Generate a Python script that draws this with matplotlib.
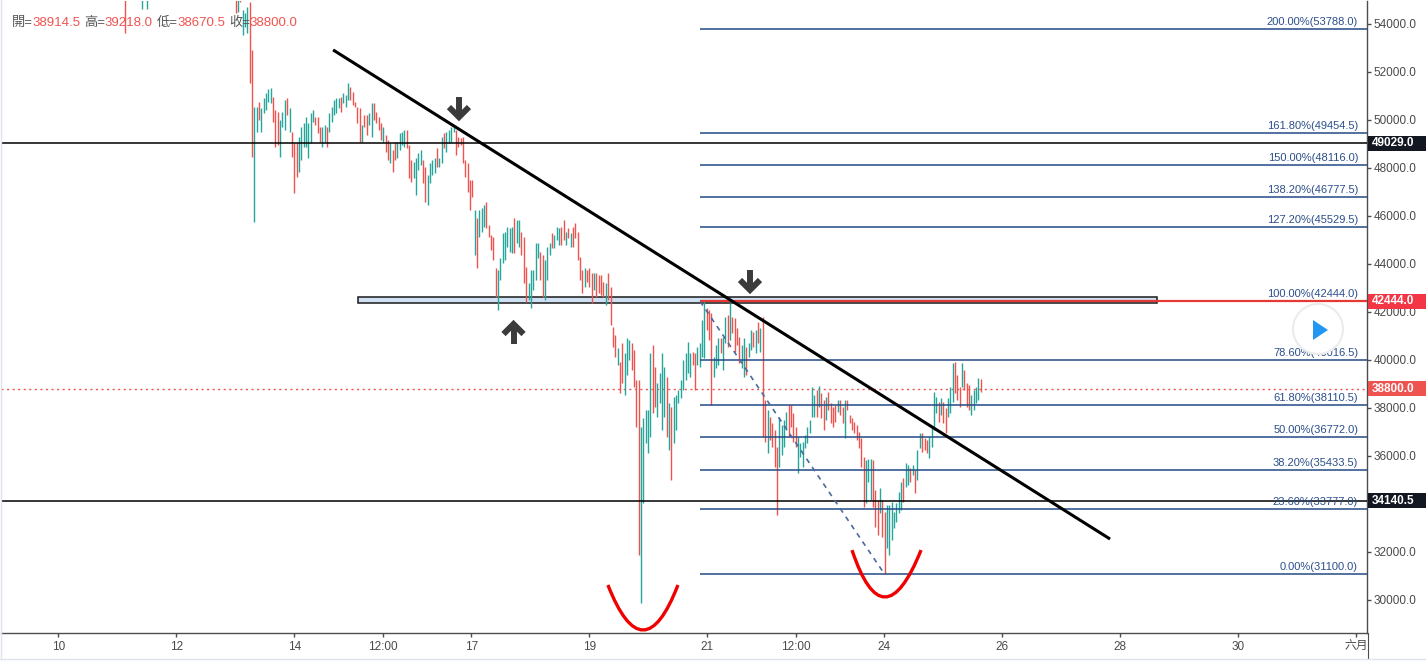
import numpy as np
import matplotlib
matplotlib.use("Agg")
import matplotlib.pyplot as plt
from matplotlib.patches import Rectangle, Circle, Polygon, PathPatch
from matplotlib.path import Path
from matplotlib.lines import Line2D
from matplotlib.transforms import IdentityTransform

plt.rcParams['font.family'] = ['Liberation Sans', 'Noto Sans CJK TC', 'DejaVu Sans']

# bar highs / lows in thousand USD (left to right)
high_k = [
    56.8, 57.1, 57.0, 56.6, 56.2, 55.9, 56.0, 56.1, 56.4, 56.3,
    56.0, 55.9, 55.8, 55.6, 55.7, 55.6, 56.0, 56.4, 56.7, 56.9,
    57.2, 57.5, 57.3, 57.0, 56.8, 57.1, 57.4, 57.6, 57.3, 57.0,
    57.2, 57.5, 57.8, 57.5, 57.2, 56.9, 57.1, 57.3, 57.0, 56.7,
    56.5, 56.8, 57.0, 56.7, 56.3, 56.0, 56.2, 56.1, 55.9, 55.8,
    56.0, 55.7, 55.6, 55.5, 55.3, 55.4, 54.6, 54.46, 54.7, 54.9,
    52.92, 50.54, 50.54, 50.75, 50.50, 50.92, 51.13, 51.29, 51.33, 50.96,
    50.42, 50.33, 50.00, 50.33, 50.83, 50.92, 50.50, 49.50, 49.04, 49.04,
    49.29, 49.71, 49.88, 50.13, 49.88, 50.29, 50.42, 50.13, 50.13, 49.71,
    49.71, 49.79, 49.71, 50.29, 50.54, 50.83, 50.92, 50.92, 50.96, 51.13,
    51.04, 51.54, 51.38, 51.17, 50.75, 50.54, 50.50, 49.79, 50.21, 50.21,
    50.29, 50.71, 50.71, 50.33, 50.13, 49.88, 49.71, 49.38, 49.17, 49.04,
    48.75, 49.08, 49.08, 49.46, 49.50, 49.58, 49.58, 48.96, 48.33, 48.25,
    48.42, 48.63, 48.75, 48.33, 48.04, 47.71, 48.21, 48.33, 48.42, 48.83,
    48.42, 49.29, 49.46, 49.50, 49.58, 49.71, 49.79, 49.58, 49.29, 49.25,
    49.29, 48.33, 48.21, 47.50, 47.50, 46.25, 45.92, 46.25, 46.33, 46.46,
    46.58, 45.63, 45.21, 45.13, 43.83, 43.75, 44.25, 45.29, 45.33, 45.54,
    45.50, 45.54, 45.92, 45.83, 45.83, 45.33, 45.13, 43.88, 43.21, 43.75,
    43.75, 44.88, 44.88, 44.50, 44.38, 44.17, 44.71, 44.88, 45.29, 45.21,
    45.54, 45.50, 45.54, 45.83, 45.33, 45.50, 45.29, 45.54, 45.71, 45.33,
    44.29, 43.75, 43.83, 43.75, 43.83, 43.63, 43.63, 43.63, 43.54, 43.54,
    43.25, 43.21, 43.63, 43.04, 41.38, 41.04, 40.50, 39.92, 40.71, 40.29,
    40.92, 40.83, 40.71, 40.42, 39.17, 39.17, 37.21, 37.58, 37.92, 37.92,
    40.29, 40.63, 39.71, 39.04, 39.46, 40.29, 39.71, 39.29, 38.21, 38.04,
    38.46, 38.54, 38.75, 39.17, 40.00, 40.29, 40.75, 40.29, 40.33, 40.29,
    40.54, 40.71, 41.67, 42.44, 42.17, 42.08, 41.96,
    40.13, 40.63, 40.92, 40.92, 40.96, 41.79, 41.88, 42.38, 41.79, 41.75, 41.33, 40.96,
    40.63, 40.92, 40.54, 40.71, 41.25, 41.17, 41.25, 41.58, 41.33, 41.79, 38.33, 37.92, 37.63,
    37.38, 37.08, 36.38, 37.63, 37.29, 37.50, 37.83, 38.13, 38.13, 37.79,
    37.21, 36.79, 36.54, 36.58, 36.88, 37.21, 37.50, 38.88, 38.54, 38.75,
    38.92, 38.63, 38.33, 38.46, 38.67, 38.21, 38.04, 38.13, 38.33, 38.33,
    38.04, 38.33, 38.33,
    37.71, 37.58, 37.42, 37.29, 37.00, 36.75, 35.96, 35.83, 35.88, 35.88,
    35.83, 34.58, 34.17, 34.67, 34.17, 33.67, 33.96, 33.96, 34.08, 33.67,
    34.04, 34.50, 34.92, 35.08, 35.71, 35.63, 35.50, 35.63,
    35.42, 36.25, 36.96, 36.96, 36.75, 36.67, 36.79, 37.21, 38.67, 38.46,
    38.25, 38.42, 38.25, 38.00, 38.42, 38.88, 39.88, 39.92, 39.38, 38.88,
    39.88, 39.58, 39.04, 38.96, 38.54, 38.75, 38.88, 39.25, 39.218,
]
low_k = [
    55.9, 56.2, 56.3, 55.7, 55.3, 55.1, 53.62, 55.2, 55.6, 55.5,
    55.3, 55.2, 55.1, 54.63, 55.05, 54.63, 55.2, 55.5, 55.9, 56.1,
    56.3, 56.6, 56.5, 56.2, 56.0, 56.3, 56.6, 56.8, 56.4, 56.1,
    56.4, 56.7, 56.9, 56.6, 56.3, 56.0, 56.2, 56.5, 56.1, 55.8,
    55.6, 55.9, 56.1, 55.7, 55.4, 55.2, 55.4, 55.3, 55.15, 55.1,
    55.3, 55.1, 55.05, 54.46, 54.5, 54.9, 53.54, 53.88, 53.62, 51.54,
    48.46, 45.75, 49.50, 50.00, 49.50, 50.29, 50.42, 50.75, 50.71, 49.92,
    48.88, 48.96, 48.46, 49.71, 49.58, 50.21, 49.50, 48.46, 46.96, 47.63,
    47.83, 48.33, 48.88, 48.88, 48.42, 49.04, 49.92, 49.79, 49.46, 49.08,
    48.88, 49.08, 48.88, 49.50, 49.92, 50.21, 50.29, 50.50, 50.33, 50.71,
    50.54, 50.83, 50.83, 50.63, 50.54, 49.88, 49.08, 49.08, 49.71, 49.38,
    49.79, 49.29, 50.00, 49.88, 49.58, 49.17, 49.08, 48.67, 48.33, 48.21,
    47.83, 48.33, 48.42, 48.75, 48.96, 48.88, 48.83, 47.58, 47.42, 47.58,
    46.88, 47.92, 48.13, 47.38, 46.58, 46.46, 47.38, 47.71, 47.79, 48.04,
    48.04, 48.21, 48.83, 48.67, 49.04, 49.08, 49.50, 48.54, 48.88, 48.96,
    48.21, 47.63, 47.00, 46.25, 46.79, 44.38, 43.83, 45.13, 45.33, 45.54,
    45.50, 45.13, 44.58, 44.17, 42.63, 42.08, 43.33, 44.04, 44.17, 44.71,
    44.50, 44.46, 44.46, 44.88, 44.71, 44.38, 43.21, 42.42, 42.50, 42.17,
    42.92, 43.33, 44.25, 43.33, 42.63, 42.50, 43.33, 44.38, 44.67, 44.67,
    45.00, 44.79, 44.79, 45.00, 44.79, 45.08, 44.71, 44.71, 45.08, 44.17,
    43.33, 42.79, 43.04, 43.25, 43.04, 42.38, 42.92, 42.63, 42.79, 42.71,
    42.63, 42.29, 42.50, 41.46, 40.54, 40.13, 39.79, 38.63, 39.04, 38.54,
    39.38, 40.00, 39.58, 38.88, 37.21, 31.88, 29.88, 34.04, 36.54, 36.13,
    36.79, 37.79, 38.04, 37.63, 38.21, 37.08, 37.63, 36.79, 36.25, 35.00,
    36.54, 37.08, 38.21, 38.42, 38.75, 39.17, 39.46, 39.29, 39.79, 38.75,
    39.79, 39.71, 40.13, 40.08, 41.25, 40.83, 38.13,
    39.29, 39.67, 39.79, 40.29, 39.58, 40.71, 40.54, 40.83, 41.13, 40.33, 40.63, 39.88,
    39.67, 39.29, 39.38, 40.13, 40.42, 40.54, 40.29, 40.71, 40.33, 36.79, 36.58, 36.13, 36.67,
    36.38, 35.54, 33.54, 35.54, 36.04, 36.38, 37.08, 36.79, 37.21, 36.58,
    36.38, 35.29, 35.96, 35.54, 36.33, 36.54, 36.96, 37.63, 37.63, 37.63,
    38.04, 37.58, 37.08, 37.50, 37.92, 37.38, 37.21, 37.42, 37.83, 37.71,
    37.38, 36.75, 37.92,
    37.38, 37.08, 36.96, 36.67, 36.33, 35.54, 33.88, 34.04, 34.92, 34.17,
    33.88, 33.04, 32.71, 33.63, 32.63, 31.10, 32.17, 31.88, 32.50, 33.00,
    33.25, 33.63, 33.75, 34.08, 34.71, 34.79, 34.92, 35.21,
    34.46, 35.00, 36.33, 36.17, 36.25, 36.13, 35.92, 36.38, 37.08, 37.79,
    37.42, 37.71, 37.38, 36.96, 37.63, 37.79, 38.25, 38.63, 38.33, 38.04,
    38.88, 38.75, 38.04, 37.92, 37.71, 37.92, 38.21, 38.33, 38.6705,
]
# u = closed up (teal), d = closed down (red)
bar_dir = """
u u d d d d d u u d   d d d u u u u u u d   u u d d u u u d d u
u u d d d u u d d d   u u d d d u u d d u   d d d d u d u u u d
d u u d u u u u u d   d d u u u d u d d d   u u u u u u u d d d
u u d u u u u u d u   u u d d d d d u d d   u u d d d d u d d u
d d u u u u d d d u   u u u d d u u u u d   u u d u u u u d d d
d d d d d u d u u u   d d d d d u u u u u   u u d u u d d d u u
u u u d d u u u d u   u u d d u d u d d d   d d u d d d u d d d
d u d d d d u d d u   u u d d d d u u u u   u d d u u u u d u d
u u u u u u u u d d   u u u u d d d
u u u d u u d u d d d d
u u d u u d u d u d d u d
d d d u u u u d d d   d u u u u u u u u d   u d d u d d d d u d   d u d
d d d d d d d u u u   d d d u d d u u u u   u u u d u u d u
d u u d d d u u u u   d u d d u u u d d d
u d d d u u u u d
""".split()

bar_start = 21.61   # hours after 10 May 00:00 of the first bar
bar_step = 0.9533

fib_pct = ["0.00", "23.60", "38.20", "50.00", "61.80", "78.60",
           "100.00", "127.20", "138.20", "150.00", "161.80", "200.00"]
fib_val = [31100.0, 33777.0, 35433.5, 36772.0, 38110.5, 40016.5,
           42444.0, 45529.5, 46777.5, 48116.0, 49454.5, 53788.0]
fib_start = 261.1

level_lines = [49029.0, 34140.5]
last_price = 38800.0
ohlc_last = [("開", "38914.5"), ("高", "39218.0"), ("低", "38670.5"), ("收", "38800.0")]
price_tags = [(49029.0, "#131722"), (42444.0, "#f23645"),
              (38800.0, "#ef5350"), (34140.5, "#131722")]

x_ticks = [0, 48, 96, 132, 168, 216, 264, 300, 336, 384, 432, 480, 528]
x_labels = ["10", "12", "14", "12:00", "17", "19", "21", "12:00",
            "24", "26", "28", "30", "六月"]

W, H = 1426, 663
fig = plt.figure(figsize=(W / 100, H / 100), dpi=100)
fig.patch.set_facecolor("white")
ax = fig.add_axes([1 / W, 30 / H, 1366 / W, 632 / H])
x_max = 532.42
ax.set_xlim(-23.31, x_max)
ax.set_ylim(28625, 54958)
ax.autoscale(False)

hi = np.array(high_k) * 1000
lo = np.array(low_k) * 1000
t = bar_start + np.arange(len(hi)) * bar_step
cols = ["#26a69a" if d == "u" else "#ef5350" for d in bar_dir]
ax.vlines(t, lo, hi, colors=cols, lw=1.0, zorder=3)

# support zone
ax.add_patch(Rectangle((121.9, 42360), 447.0 - 121.9, 250, fc="#cfe0f3",
                       ec="#1a1a1a", lw=1.1, zorder=2))

# fib retracement
ax.hlines(fib_val, fib_start, x_max, color="#234a85", lw=1.1, zorder=4)
for pct, v in zip(fib_pct, fib_val):
    ax.annotate(f"{pct}%({v:.1f})", (528.8, v), xytext=(0, 1.5),
                textcoords="offset points", ha="right", va="bottom",
                fontsize=8, color="#2b4f8a", zorder=6)
ax.hlines(42444.0, fib_start, x_max, color="#e53935", lw=1.6, zorder=5)
ax.plot([261.1, 336.0], [42444.0, 31100.0], color="#4a6a9c", lw=1.2,
        ls=(0, (3, 3)), zorder=5)

for v in level_lines:
    ax.axhline(v, color="black", lw=1.1, zorder=4)
ax.axhline(last_price, color="#ef5350", lw=1, ls=(0, (1.5, 2.5)), zorder=2)

# trend line
ax.plot([111.8, 427.9], [52920, 32540], color="black", lw=2.2, zorder=6,
        solid_capstyle="butt")

# red "U" marks (quadratic curves)
u_marks = [(223.6, 237.9, 252.1, 30625, 28750), (322.9, 336.3, 351.0, 32080, 30125)]
for t0, tm, t1, ptop, pbot in u_marks:
    ctrl = (2 * tm - 0.5 * (t0 + t1), 2 * pbot - ptop)
    path = Path([(t0, ptop), ctrl, (t1, ptop)], [Path.MOVETO, Path.CURVE3, Path.CURVE3])
    ax.add_patch(PathPatch(path, fc="none", ec="#f00000", lw=2.4, zorder=7))

ax.spines["left"].set_visible(False)
ax.spines["top"].set_visible(False)
for s in ("right", "bottom"):
    ax.spines[s].set_color("#4d4d4d")
    ax.spines[s].set_linewidth(1)
ax.yaxis.tick_right()
yt = np.arange(30000, 54001, 2000)
ax.set_yticks(yt)
# the 34000 label sits under the 34140.5 tag in the reference
ax.set_yticklabels(["" if v == 34000 else f"{v:.1f}" for v in yt])
ax.set_xticks(x_ticks)
ax.set_xticklabels(x_labels)
ax.tick_params(axis="both", length=3, width=1, color="#4d4d4d",
               labelsize=8.5, labelcolor="#4a4a4a")
ax.tick_params(axis="y", pad=2)
ax.tick_params(axis="x", pad=3)

# arrows (drawn in pixels around a data anchor)
arrow_marks = [(163.0, 50080, "down"), (281.4, 42875, "down"), (185.2, 41540, "up")]
for at, ap, kind in arrow_marks:
    px, py = ax.transData.transform((at, ap))
    s = 1 if kind == "up" else -1
    fig.add_artist(Line2D([px, px], [py - s * 4, py - s * 21], color="#3b3b3b",
                          lw=4.3, solid_capstyle="butt", transform=IdentityTransform()))
    fig.add_artist(Line2D([px - 10, px, px + 10], [py - s * 11, py - s * 1, py - s * 11],
                          color="#3b3b3b", lw=4.3, solid_joinstyle="miter",
                          solid_capstyle="butt", transform=IdentityTransform()))

# price tags on the scale
for v, c in price_tags:
    py = ax.transData.transform((0, v))[1]
    fig.add_artist(Rectangle((1368, py - 7.5), 58, 15, fc=c, ec="none",
                             transform=IdentityTransform()))
    fig.text(1372 / W, py / H, f"{v:.1f}", color="white", fontsize=8.5,
             fontweight="bold", va="center", ha="left")

# play button overlay
fig.add_artist(Circle((1318, H - 329), 25, fc="white", ec="#ececec", lw=1.5,
                      transform=IdentityTransform(), zorder=10))
fig.add_artist(Polygon([(1313, H - 320), (1313, H - 340), (1328, H - 330)],
                       fc="#2196f3", ec="none", transform=IdentityTransform(), zorder=11))

# OHLC header
x_pos = [12, 84, 157, 229]
for (lab, val), xp in zip(ohlc_last, x_pos):
    fig.text(xp / W, 1 - 23 / H, lab + "=", color="#555555", fontsize=9.5, va="center")
    fig.text((xp + 20) / W, 1 - 23 / H, val, color="#ef5350", fontsize=9.5, va="center")

# separators / frame
fig.add_artist(Line2D([1367.5, 1367.5], [H - 658, H - 633], color="#4d4d4d", lw=0.8,
                      transform=IdentityTransform()))
fig.add_artist(Line2D([0, W], [H - 658.5, H - 658.5], color="#e0e3eb", lw=1,
                      transform=IdentityTransform()))
fig.add_artist(Line2D([0.5, 0.5], [H - 658, H], color="#e0e3eb", lw=1,
                      transform=IdentityTransform()))

fig.savefig("out.png", dpi=100)
